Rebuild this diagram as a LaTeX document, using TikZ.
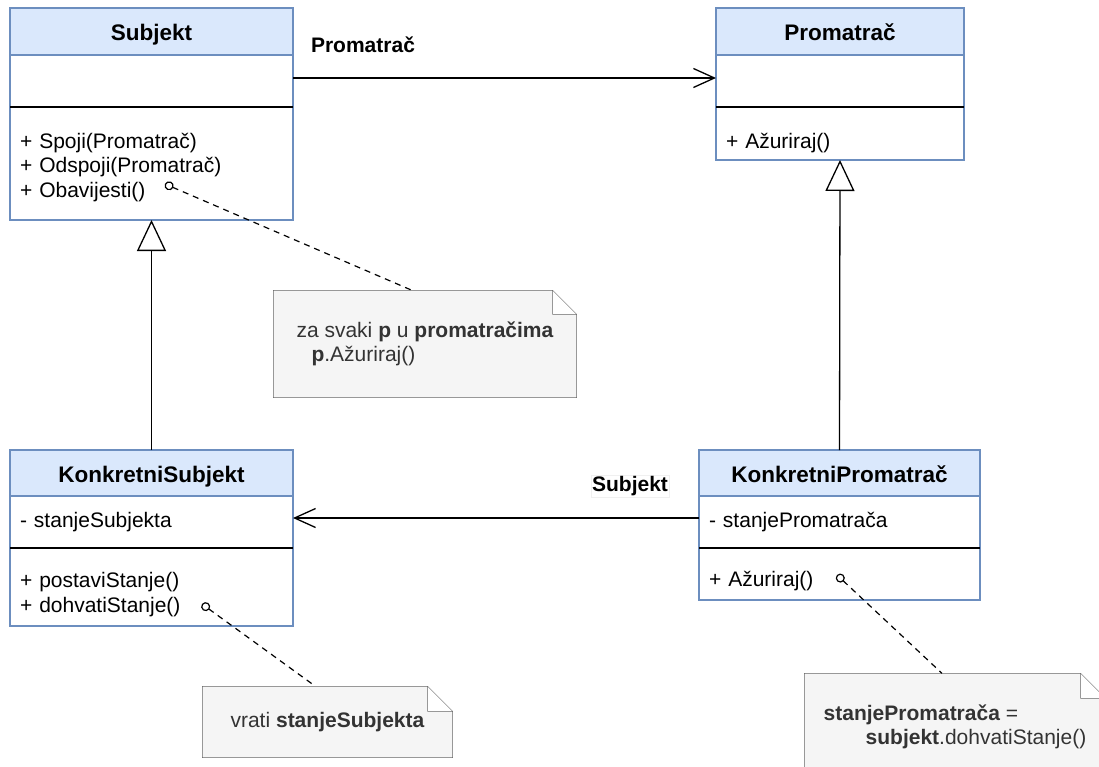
\documentclass[tikz,border=0pt]{standalone}
\usepackage{fontspec}
\setmainfont{Liberation Sans}
\usepackage{xcolor}
\usetikzlibrary{arrows.meta,positioning,backgrounds}
\definecolor{umlline}{HTML}{6C8EBF}
\definecolor{umlfill}{HTML}{DAE8FC}
\definecolor{notefill}{HTML}{F5F5F5}
\definecolor{noteline}{HTML}{666666}
\definecolor{notetext}{HTML}{333333}
\newcommand{\classfont}{\fontsize{21}{24.5}\selectfont}
\newcommand{\titlefont}{\bfseries\fontsize{22.5}{27}\selectfont}
\newcommand{\topgap}[1]{\rule{0pt}{#1}}

\begin{document}
\begin{tikzpicture}
[x=1pt,y=-1pt,line width=1.3pt,
 classhead/.style={draw=umlline,fill=umlfill,inner sep=0pt,outer sep=0pt,text height=23pt,text depth=4pt,font=\titlefont},
 classpart/.style={draw=umlline,fill=white,inner xsep=10pt,inner ysep=0pt,outer sep=0pt,align=left,font=\classfont},
 notebox/.style={inner sep=0pt,align=left,text=notetext,font=\classfont},
 notefold/.style={draw=noteline,fill=notefill},
 lbl/.style={font=\bfseries\classfont},
 assoc/.style={-{Straight Barb[length=21pt,width=19pt]}},
 inherit/.style={-{Triangle[open,length=31pt,width=29pt]}},
 notelink/.style={{Circle[open,length=9pt]}-,dash pattern=on 6pt off 5pt,line width=1.2pt}]
  \clip (0,0) rectangle (1099,767);
  \begin{scope}[on background layer]
    \fill[white] (0,0) rectangle (1099,767);
  \end{scope}
%
  \node[classhead,minimum width=283pt,minimum height=47pt,anchor=north west] (subj) at (10,8) {Subjekt};
  \node[classpart,text width=263pt,minimum height=52pt,below=0pt of subj] (subjattr) {};
  \node[classpart,text width=263pt,minimum height=113pt,below=0pt of subjattr] (subjmeth) {\topgap{23pt}+ Spoji(Promatrač)\\+ Odspoji(Promatrač)\\+ Obavijesti()};
%
  \node[classhead,minimum width=248pt,minimum height=47pt,anchor=north west] (prom) at (716,8) {Promatrač};
  \node[classpart,text width=228pt,minimum height=52pt,below=0pt of prom] (promattr) {};
  \node[classpart,text width=228pt,minimum height=53pt,below=0pt of promattr] (prommeth) {\topgap{35pt}+ Ažuriraj()};
%
  \node[classhead,minimum width=283pt,minimum height=46pt,anchor=north west] (ksubj) at (10,450) {KonkretniSubjekt};
  \node[classpart,text width=263pt,minimum height=52pt,below=0pt of ksubj] (ksubjattr) {- stanjeSubjekta};
  \node[classpart,text width=263pt,minimum height=78pt,below=0pt of ksubjattr] (ksubjmeth) {\topgap{30pt}+ postaviStanje()\\+ dohvatiStanje()};
%
  \node[classhead,minimum width=281pt,minimum height=46pt,anchor=north west] (kprom) at (699,450) {KonkretniPromatrač};
  \node[classpart,text width=261pt,minimum height=52pt,below=0pt of kprom] (kpromattr) {- stanjePromatrača};
  \node[classpart,text width=261pt,minimum height=52pt,below=0pt of kpromattr] (kprommeth) {\topgap{29pt}+ Ažuriraj()};
%
  \foreach \c in {subjattr,promattr,ksubjattr,kpromattr}
    \draw (\c.south west) -- (\c.south east);
%
  \node[notebox,minimum width=302pt,minimum height=106pt] (note1) at (425,344) {za svaki \textbf{p} u \textbf{promatračima}\\\hspace*{15pt}\textbf{p}.Ažuriraj()};
  \node[notebox,minimum width=249pt,minimum height=70pt] (note2) at (327.5,722) {vrati \textbf{stanjeSubjekta}};
  \node[notebox,minimum width=300pt,minimum height=106pt] (note3) at (955,727) {\textbf{stanjePromatrača} =\\\hspace*{42pt}\textbf{subjekt}.dohvatiStanje()};
  \begin{scope}[on background layer]
    \foreach \n/\f in {note1/24,note2/25,note3/25}
      \draw[notefold] (\n.north west) -- ([xshift=-\f*1pt]\n.north east) -- ([yshift=-\f*1pt]\n.north east)
        -- (\n.south east) -- (\n.south west) -- cycle
        ([xshift=-\f*1pt]\n.north east) |- ([yshift=-\f*1pt]\n.north east);
  \end{scope}
%
  \node[lbl] (lblprom) at (363,45) {Promatrač};
  \node[lbl,fill=white,draw=black!6,line width=0.5pt,inner sep=1pt] (lblsubj) at (630,486) {Subjekt};
  \draw[assoc] ([yshift=3pt]subjattr.east) -- ([yshift=3pt]promattr.west);
  \draw[assoc] ([yshift=4pt]kpromattr.west) -- ([yshift=4pt]ksubjattr.east);
  \draw[inherit] (ksubj.north) -- (subjmeth.south);
  \draw[inherit] (kprom.north) -- (prommeth.south);
%
  \coordinate (obav) at (165,184);
  \coordinate (dohv) at (202,604);
  \coordinate (azur) at (837,575);
  \draw[notelink] (obav) -- ([xshift=-13pt]note1.north);
  \draw[notelink] (dohv) -- ([xshift=-12pt]note2.north);
  \draw[notelink] (azur) -- ([xshift=-13pt]note3.north);
\end{tikzpicture}
\end{document}
